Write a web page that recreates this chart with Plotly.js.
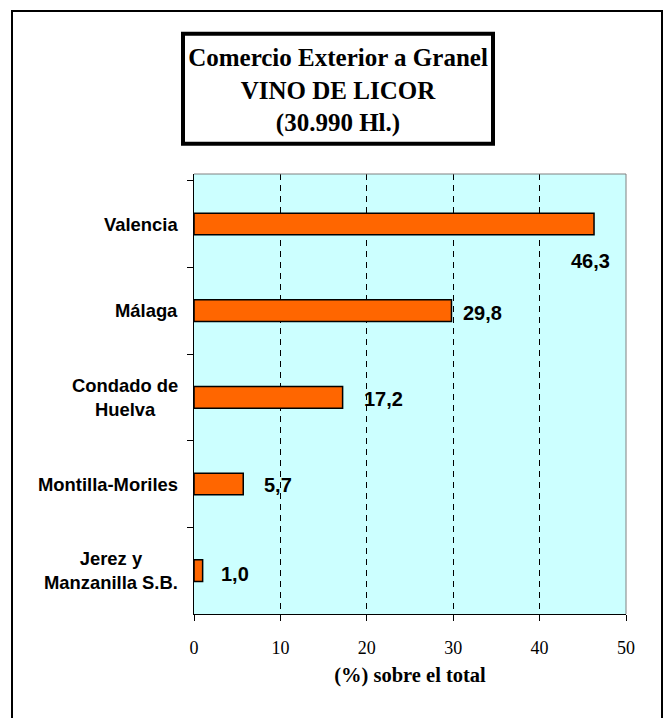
<!DOCTYPE html>
<html>
<head>
<meta charset="utf-8">
<script src="https://cdn.plot.ly/plotly-3.0.1.min.js"></script>
<style>
  html, body { margin: 0; padding: 0; background: #fff; }
  #chart { width: 664px; height: 718px; }
</style>
</head>
<body>
<div id="chart"></div>
<script>
// ---- Data ----
const categories = ['Valencia', 'Málaga', 'Condado de Huelva', 'Montilla-Moriles', 'Jerez y Manzanilla S.B.'];
const categoryLabels = ['Valencia', 'Málaga', 'Condado de<br>Huelva', 'Montilla-Moriles', 'Jerez y<br>Manzanilla S.B.'];
const values = [46.3, 29.8, 17.2, 5.7, 1.0];
const valueLabels = ['46,3', '29,8', '17,2', '5,7', '1,0'];
const titleLines = ['Comercio Exterior a Granel', 'VINO DE LICOR', '(30.990 Hl.)'];
const xAxisTitle = '(%) sobre el total';

// ---- Layout helpers (pixel geometry) ----
const W = 664, H = 718;
const M = { l: 194, r: 38, t: 174, b: 104 };
const PW = W - M.l - M.r, PH = H - M.t - M.b;
const px2x = px => (px - M.l) / PW;
const py2y = py => (H - M.b - py) / PH;

// value label placement (style, not data)
const valueLabelPlacement = [
  { xanchor: 'center', xshift: -4, yshift: -37 },
  { xanchor: 'left', xshift: 10, yshift: -2 },
  { xanchor: 'left', xshift: 19, yshift: -2 },
  { xanchor: 'left', xshift: 19, yshift: -1 },
  { xanchor: 'left', xshift: 16, yshift: -3 }
];

const sans = 'Liberation Sans, Arial, sans-serif';
const serif = 'Liberation Serif, Times New Roman, serif';

const trace = {
  type: 'bar',
  orientation: 'h',
  x: values,
  y: categories,
  width: 0.25,
  marker: { color: '#FF6600', line: { color: '#000000', width: 1.5 } },
  hoverinfo: 'none'
};

const annotations = [];
categories.forEach((c, i) => {
  annotations.push({
    xref: 'paper', x: 0, xanchor: 'right', xshift: -14,
    yref: 'y', y: c, yanchor: 'middle',
    text: categoryLabels[i], align: 'center', showarrow: false,
    font: { family: sans, size: 18.4, weight: 'bold', color: '#000' }
  });
  const p = valueLabelPlacement[i];
  annotations.push({
    xref: 'x', x: values[i], xanchor: p.xanchor, xshift: p.xshift,
    yref: 'y', y: c, yanchor: 'middle', yshift: p.yshift,
    text: valueLabels[i], showarrow: false,
    font: { family: sans, size: 20, weight: 'bold', color: '#000' }
  });
});

const shapes = [
  // grey top & right plot border
  { type: 'line', xref: 'paper', yref: 'paper', x0: 0, x1: 1, y0: 1, y1: 1, line: { color: '#808080', width: 1 }, layer: 'above' },
  { type: 'line', xref: 'paper', yref: 'paper', x0: 1, x1: 1, y0: 0, y1: 1, line: { color: '#808080', width: 1 }, layer: 'above' },
  // outer chart border
  { type: 'rect', xref: 'paper', yref: 'paper', x0: px2x(12), x1: px2x(662), y0: py2y(730), y1: py2y(11),
    line: { color: '#000', width: 2 }, fillcolor: 'rgba(0,0,0,0)', layer: 'above' },
  // title box
  { type: 'rect', xref: 'paper', yref: 'paper', x0: px2x(183), x1: px2x(493), y0: py2y(143.7), y1: py2y(33.7),
    line: { color: '#000', width: 4 }, fillcolor: 'rgba(0,0,0,0)', layer: 'above' }
];

const layout = {
  width: W, height: H,
  margin: M,
  paper_bgcolor: '#FFFFFF',
  plot_bgcolor: '#CCFFFF',
  showlegend: false,
  title: {
    text: titleLines.join('<br>'),
    x: 338 / W, xanchor: 'center',
    y: 1 - 66 / H, yanchor: 'middle',
    yref: 'container', xref: 'container',
    font: { family: serif, size: 25, weight: 'bold', color: '#000' }
  },
  xaxis: {
    range: [0, 50], tick0: 0, dtick: 10,
    showgrid: true, gridcolor: '#000', gridwidth: 1, griddash: '6px,5px',
    zeroline: false,
    showline: true, linecolor: '#000', linewidth: 1,
    ticks: 'outside', ticklen: 6, tickcolor: '#000', tickwidth: 1,
    ticklabelstandoff: 11,
    tickfont: { family: serif, size: 18, color: '#000' },
    title: { text: xAxisTitle, standoff: 11, font: { family: serif, size: 20.5, weight: 'bold', color: '#000' } },
    fixedrange: true
  },
  yaxis: {
    type: 'category',
    categoryorder: 'array', categoryarray: categories,
    autorange: 'reversed',
    showticklabels: false,
    ticks: 'outside', tickson: 'boundaries', ticklen: 6, tickcolor: '#000', tickwidth: 1,
    showgrid: false, zeroline: false,
    showline: true, linecolor: '#000', linewidth: 1,
    fixedrange: true
  },
  annotations: annotations,
  shapes: shapes
};

Plotly.newPlot('chart', [trace], layout, { staticPlot: true, displayModeBar: false });
</script>
</body>
</html>
